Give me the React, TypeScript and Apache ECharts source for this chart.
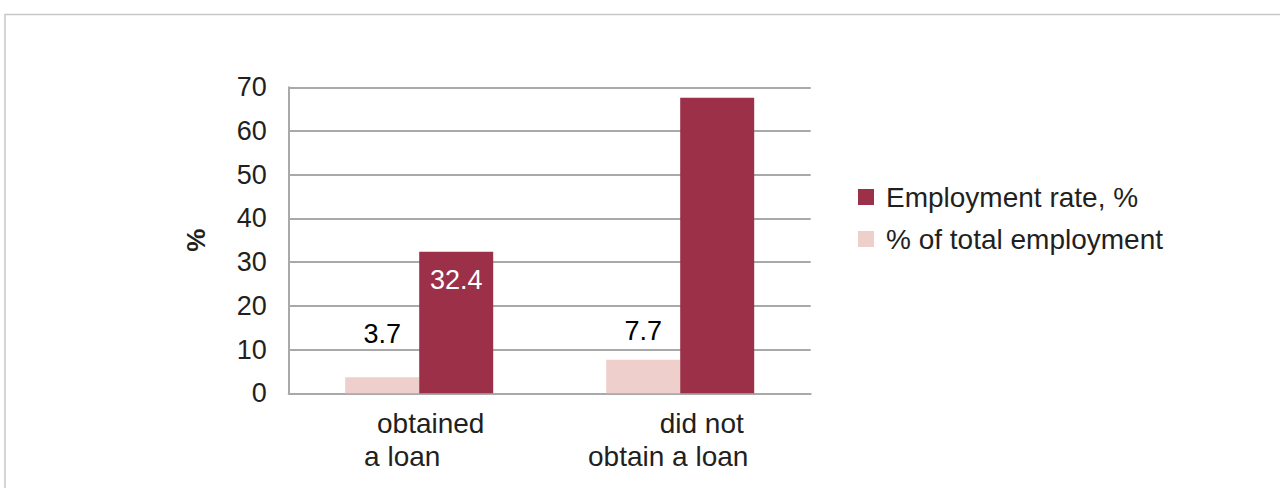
import React, { useEffect, useRef } from "react";
import * as echarts from "echarts";

const categories = ["obtained a loan", "did not obtain a loan"];
const categoryLines = [
  ["obtained", "a loan"],
  ["did not", "obtain a loan"],
];
const seriesNames = ["% of total employment", "Employment rate, %"];
const shareOfEmployment = [3.7, 7.7];
const employmentRate = [32.4, 67.6];
const shareLabelShown = [true, true];
const rateLabelShown = [true, false];
const yTicks = [0, 10, 20, 30, 40, 50, 60, 70];

// style-only arrays
const shareLabelDistance = [30, 15];
const linePad = [
  [[0, 0, 0, 23], [0, 34, 0, 0]],
  [[0, 0, 0, 43], [0, 24, 0, 0]],
];

const FONT = "'Liberation Sans', Arial, Helvetica, sans-serif";
const TEXT = "#231f20";
const RED = "#9c3049";
const PINK = "#eecfcb";
const GRID = "#a9a9ac";

export default function App() {
  const ref = useRef<HTMLDivElement>(null);
  useEffect(() => {
    if (!ref.current) return;
    const chart = echarts.init(ref.current, undefined, { renderer: "svg" });
    const rich: Record<string, any> = {};
    categoryLines.forEach((lines, ci) => {
      lines.forEach((_, li) => {
        rich[`c${ci}l${li}`] = {
          fontFamily: FONT,
          fontSize: 28,
          color: TEXT,
          lineHeight: 33,
          padding: linePad[ci][li],
        };
      });
    });
    chart.setOption({
      animation: false,
      textStyle: { fontFamily: FONT },
      graphic: [
        {
          type: "rect",
          shape: { x: 5, y: 14.5, width: 1400, height: 600 },
          style: { fill: "none", stroke: "#c8c8c8", lineWidth: 1.5 },
          silent: true,
        },
      ],
      legend: {
        orient: "vertical",
        left: 858,
        top: 183,
        padding: 0,
        icon: "rect",
        itemWidth: 16,
        itemHeight: 16,
        itemGap: 14,
        data: [seriesNames[1], seriesNames[0]],
        textStyle: {
          fontFamily: FONT,
          fontSize: 28,
          color: TEXT,
          padding: [0, 0, 0, 7],
        },
      },
      grid: { left: 288.7, right: 469.3, top: 87.3, bottom: 94.7 },
      xAxis: {
        type: "category",
        data: categories,
        axisLine: { lineStyle: { color: GRID, width: 2 } },
        axisTick: { show: false },
        axisLabel: {
          margin: 14,
          interval: 0,
          formatter: (_v: string, idx: number) =>
            categoryLines[idx].map((t, li) => `{c${idx}l${li}|${t}}`).join("\n"),
          rich,
        },
      },
      yAxis: {
        type: "value",
        min: yTicks[0],
        max: yTicks[yTicks.length - 1],
        interval: 10,
        name: "%",
        nameLocation: "middle",
        nameRotate: 90,
        nameGap: 80,
        nameTextStyle: { fontFamily: FONT, fontSize: 26, fontWeight: "bold", color: TEXT },
        axisLine: { show: true, lineStyle: { color: GRID, width: 2 } },
        axisTick: { show: false },
        axisLabel: { margin: 22, fontFamily: FONT, fontSize: 27, color: TEXT },
        splitLine: { lineStyle: { color: GRID, width: 2 } },
      },
      series: [
        {
          name: seriesNames[0],
          type: "bar",
          barWidth: 74,
          barGap: "0%",
          itemStyle: { color: PINK },
          data: shareOfEmployment.map((v, i) => ({
            value: v,
            label: {
              show: shareLabelShown[i],
              position: "top",
              distance: shareLabelDistance[i],
              fontFamily: FONT,
              fontSize: 27,
              color: "#000",
            },
          })),
        },
        {
          name: seriesNames[1],
          type: "bar",
          barWidth: 74,
          barGap: "0%",
          itemStyle: { color: RED },
          data: employmentRate.map((v, i) => ({
            value: v,
            label: {
              show: rateLabelShown[i],
              position: "insideTop",
              distance: 15,
              fontFamily: FONT,
              fontSize: 27,
              color: "#fff",
            },
          })),
        },
      ],
    });
    return () => chart.dispose();
  }, []);
  return (
    <div
      ref={ref}
      style={{ position: "fixed", left: 0, top: 0, width: 1280, height: 488, background: "#fff" }}
    />
  );
}
